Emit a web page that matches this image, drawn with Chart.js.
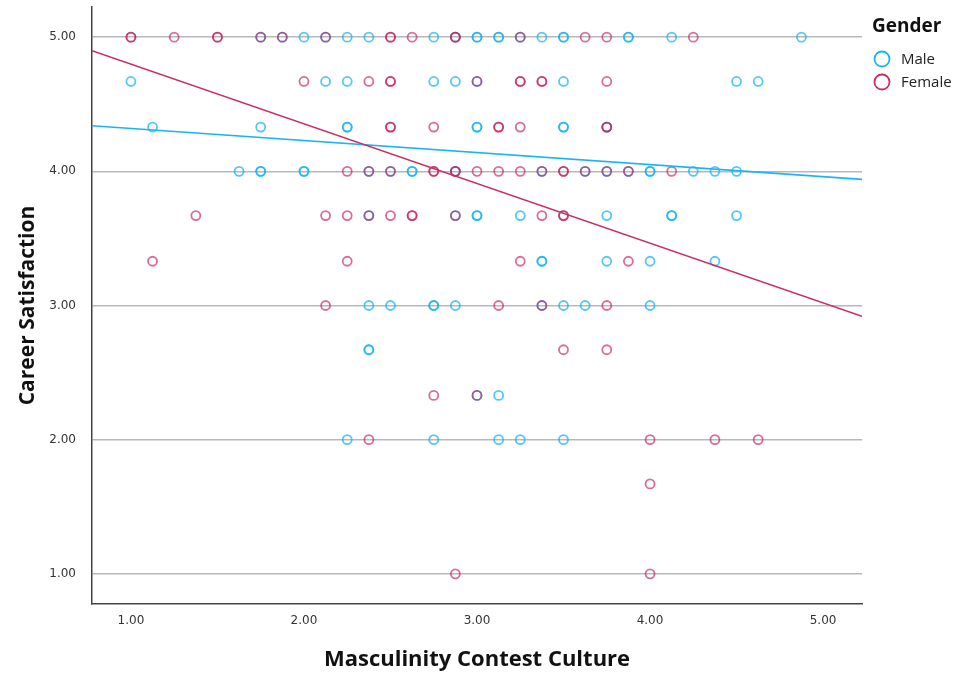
<!DOCTYPE html>
<html>
<head>
<meta charset="utf-8">
<script src="https://cdn.jsdelivr.net/npm/chart.js@4"></script>
<style>
  body { margin: 0; background: #fff; }
  #wrap { width: 963px; height: 673px; }
</style>
</head>
<body>
<div id="wrap"><canvas id="scatterChart" width="963" height="673"></canvas></div>
<script>
// career satisfaction levels (rows of the scatter), top to bottom
const satLevels = [5.0, 4.67, 4.33, 4.0, 3.67, 3.33, 3.0, 2.67, 2.33, 2.0, 1.67, 1.0];

// masculinity contest culture scores per satisfaction level (repeats = overlapping cases)
const maleMCC = [
  [1.75, 1.875, 2.0, 2.125, 2.25, 2.375, 2.75, 2.875, 3.0, 3.0, 3.125, 3.125, 3.25, 3.375, 3.5, 3.5, 3.875, 3.875, 4.125, 4.875],
  [1.0, 2.125, 2.25, 2.75, 2.875, 3.0, 3.5, 4.5, 4.625],
  [1.125, 1.75, 2.25, 2.25, 3.0, 3.0, 3.5, 3.5, 3.75],
  [1.625, 1.75, 1.75, 2.0, 2.0, 2.375, 2.5, 2.625, 2.625, 2.875, 3.375, 3.625, 3.75, 3.875, 4.0, 4.0, 4.25, 4.375, 4.5],
  [2.375, 2.875, 3.0, 3.0, 3.25, 3.75, 4.125, 4.125, 4.5],
  [3.375, 3.375, 3.75, 4.0, 4.375],
  [2.375, 2.5, 2.75, 2.75, 2.875, 3.375, 3.5, 3.625, 4.0],
  [2.375, 2.375],
  [3.0, 3.125],
  [2.25, 2.75, 3.125, 3.25, 3.5],
  [],
  []
];

const femaleMCC = [
  [1.0, 1.0, 1.25, 1.5, 1.5, 1.75, 1.875, 2.125, 2.5, 2.5, 2.625, 2.875, 2.875, 3.25, 3.625, 3.75, 4.25],
  [2.0, 2.375, 2.5, 2.5, 3.0, 3.25, 3.25, 3.375, 3.375, 3.75],
  [2.5, 2.5, 2.75, 3.125, 3.125, 3.25, 3.75, 3.75],
  [2.25, 2.375, 2.5, 2.75, 2.75, 2.875, 2.875, 3.0, 3.125, 3.25, 3.375, 3.5, 3.5, 3.625, 3.75, 3.875, 4.125],
  [1.375, 2.125, 2.25, 2.375, 2.5, 2.625, 2.625, 2.875, 3.375, 3.5, 3.5],
  [1.125, 2.25, 3.25, 3.875],
  [2.125, 3.125, 3.375, 3.75],
  [3.5, 3.75],
  [2.75, 3.0],
  [2.375, 4.0, 4.375, 4.625],
  [4.0],
  [2.875, 4.0]
];

// fit lines, read at the left and right edges of the plot
const fitX = [0.775, 5.225];
const maleFitY = [4.34, 3.94];
const femaleFitY = [4.9, 2.92];

const axisTicks = [1, 2, 3, 4, 5];

const maleColor = "rgb(28, 180, 240)";
const femaleColor = "rgb(200, 45, 100)";

function toPoints(rows) {
  const pts = [];
  rows.forEach((xs, i) => {
    xs.forEach((x) => pts.push({ x: x, y: satLevels[i] }));
  });
  return pts;
}

function fitPoints(ys) {
  return fitX.map((x, i) => ({ x: x, y: ys[i] }));
}

// legend drawn by hand in the right margin
const genderLegend = {
  id: "genderLegend",
  afterDraw(chart) {
    const ctx = chart.ctx;
    ctx.save();
    ctx.fillStyle = "#111";
    ctx.textBaseline = "middle";
    ctx.textAlign = "left";
    ctx.font = "bold 19px 'Open Sans'";
    ctx.fillText("Gender", 872, 27);
    const items = [
      { label: "Male", color: maleColor, y: 59 },
      { label: "Female", color: femaleColor, y: 82 },
    ];
    ctx.font = "15px 'Open Sans'";
    items.forEach((it) => {
      ctx.beginPath();
      ctx.arc(882, it.y, 7.5, 0, Math.PI * 2);
      ctx.lineWidth = 1.8;
      ctx.strokeStyle = it.color;
      ctx.stroke();
      ctx.fillStyle = "#222";
      ctx.fillText(it.label, 901, it.y + 1);
    });
    ctx.restore();
  },
};

const ctx = document.getElementById("scatterChart").getContext("2d");

new Chart(ctx, {
  type: "scatter",
  data: {
    datasets: [
      {
        label: "Male",
        order: 3,
        data: toPoints(maleMCC),
        borderColor: "rgba(20, 178, 242, 0.72)",
        backgroundColor: "rgba(0,0,0,0)",
        pointRadius: 4.5,
        borderWidth: 1.8,
      },
      {
        label: "Female",
        order: 2,
        data: toPoints(femaleMCC),
        borderColor: "rgba(195, 30, 95, 0.65)",
        backgroundColor: "rgba(0,0,0,0)",
        pointRadius: 4.5,
        borderWidth: 1.8,
      },
      {
        label: "Male fit",
        order: 1,
        type: "line",
        data: fitPoints(maleFitY),
        borderColor: maleColor,
        borderWidth: 1.6,
        pointRadius: 0,
      },
      {
        label: "Female fit",
        order: 0,
        type: "line",
        data: fitPoints(femaleFitY),
        borderColor: femaleColor,
        borderWidth: 1.5,
        pointRadius: 0,
      },
    ],
  },
  options: {
    responsive: false,
    animation: false,
    layout: {
      autoPadding: false,
      padding: { top: 7, right: 101, left: 0, bottom: 0 },
    },
    plugins: {
      legend: { display: false },
      tooltip: { enabled: false },
    },
    scales: {
      x: {
        type: "linear",
        min: 0.775,
        max: 5.225,
        afterBuildTicks: (scale) => {
          scale.ticks = axisTicks.map((v) => ({ value: v }));
        },
        afterFit: (scale) => {
          scale.height = 69;
        },
        grid: { display: false, drawTicks: false },
        border: { display: true, color: "#444", width: 1.5 },
        ticks: {
          padding: 10,
          color: "#333",
          font: { family: "DejaVu Sans", size: 12 },
          callback: (v) => Number(v).toFixed(2),
        },
        title: {
          display: true,
          text: "Masculinity Contest Culture",
          color: "#111",
          font: { family: "Open Sans", size: 22, weight: "bold" },
          padding: { top: 0, bottom: 0 },
        },
      },
      y: {
        type: "linear",
        min: 0.775,
        max: 5.225,
        afterBuildTicks: (scale) => {
          scale.ticks = axisTicks.map((v) => ({ value: v }));
        },
        afterFit: (scale) => {
          scale.width = 92;
          scale.paddingTop = 0;
          scale.paddingBottom = 0;
        },
        grid: { color: "#b8b8b8", lineWidth: 1.5, drawTicks: false },
        border: { display: true, color: "#444", width: 1.5 },
        ticks: {
          padding: 16,
          color: "#333",
          font: { family: "DejaVu Sans", size: 12 },
          callback: (v) => Number(v).toFixed(2),
        },
        title: {
          display: true,
          text: "Career Satisfaction",
          color: "#111",
          font: { family: "Open Sans", size: 21, weight: "bold" },
          padding: { top: 15, bottom: 0 },
        },
      },
    },
  },
  plugins: [genderLegend],
});
</script>
</body>
</html>
